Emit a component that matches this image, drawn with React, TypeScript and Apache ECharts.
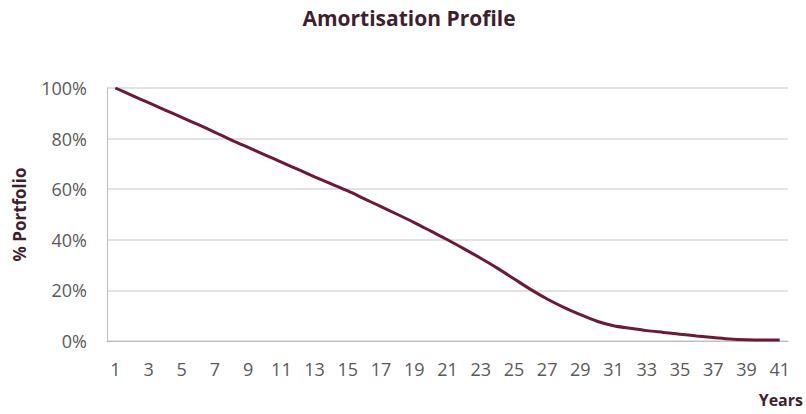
import React, { useEffect, useRef } from "react";
import * as echarts from "echarts";

const years: string[] = [
  "1","2","3","4","5","6","7","8","9","10",
  "11","12","13","14","15","16","17","18","19","20",
  "21","22","23","24","25","26","27","28","29","30",
  "31","32","33","34","35","36","37","38","39","40","41",
];

const portfolioPct: number[] = [
  100, 97.1, 94.2, 91.3, 88.4, 85.5, 82.5, 79.4, 76.5, 73.6,
  70.7, 67.8, 64.9, 62.1, 59.3, 56.2, 53.1, 50.0, 46.8, 43.4,
  40.0, 36.4, 32.7, 28.8, 24.6, 20.4, 16.6, 13.3, 10.4, 7.8,
  6.0, 5.0, 4.1, 3.4, 2.7, 2.0, 1.4, 0.8, 0.5, 0.4, 0.4,
];

const titleText = "Amortisation Profile";
const yAxisName = "% Portfolio";
const xAxisName = "Years";

export default function App() {
  const ref = useRef<HTMLDivElement>(null);
  useEffect(() => {
    if (!ref.current) return;
    const chart = echarts.init(ref.current, undefined, { renderer: "svg" });
    const font = "'Open Sans', sans-serif";
    chart.setOption({
      animation: false,
      backgroundColor: "#ffffff",
      title: {
        text: titleText,
        left: 404,
        top: 2,
        textAlign: "center",
        textStyle: { fontFamily: font, fontSize: 21, fontWeight: "bold", color: "#3f1f2f" },
      },
      grid: { left: 107, right: 18, top: 88, bottom: 73 },
      xAxis: {
        type: "category",
        data: years,
        boundaryGap: true,
        axisLine: { show: true, lineStyle: { color: "#bfbfbf", width: 1 } },
        axisTick: { show: false },
        axisLabel: {
          interval: 1,
          margin: 19,
          fontFamily: font,
          fontSize: 18,
          color: "#5a5a5a",
        },
      },
      yAxis: {
        type: "value",
        min: 0,
        max: 100,
        interval: 20,
        name: yAxisName,
        nameLocation: "middle",
        nameGap: 79,
        nameTextStyle: { fontFamily: font, fontSize: 17, fontWeight: "bold", color: "#3f1f2f" },
        axisLine: { show: true, lineStyle: { color: "#bfbfbf", width: 1 } },
        axisTick: { show: false },
        splitLine: { show: true, lineStyle: { color: "#d9d9d9", width: 1.5 } },
        axisLabel: {
          margin: 20,
          fontFamily: font,
          fontSize: 18,
          color: "#5a5a5a",
          formatter: (v: number) => v + "%",
        },
      },
      graphic: [
        {
          type: "text",
          right: 3,
          top: 392,
          style: {
            text: xAxisName,
            fontFamily: font,
            fontSize: 16,
            fontWeight: "bold",
            fill: "#3f1f2f",
          },
        },
      ],
      series: [
        {
          type: "line",
          data: portfolioPct,
          smooth: 0.3,
          symbol: "none",
          lineStyle: { color: "#6b1a38", width: 3 },
        },
      ],
    });
    return () => chart.dispose();
  }, []);
  return (
    <div
      ref={ref}
      style={{ position: "absolute", left: 0, top: 0, width: 806, height: 414 }}
    />
  );
}
